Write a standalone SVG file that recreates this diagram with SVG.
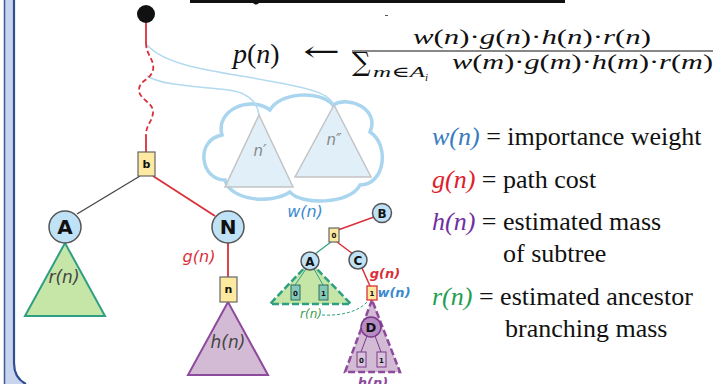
<svg xmlns="http://www.w3.org/2000/svg" width="713" height="384" viewBox="0 0 713 384">
<defs>
<style>
.node{fill:#c0e2f6;stroke:#555;stroke-width:1.5}
.box{fill:#fde9a0;stroke:#666;stroke-width:1.2}
.lbl{font-family:"DejaVu Sans",sans-serif;font-weight:bold;fill:#111;text-anchor:middle}
.it{font-family:"DejaVu Sans",sans-serif;font-style:italic;text-anchor:middle}
.red{stroke:#d9303a;fill:none}
.math{font-family:"Liberation Serif","DejaVu Serif",serif;fill:#111}
.leg{font-family:"Liberation Serif","DejaVu Serif",serif;font-size:26px;fill:#111}
.tri-g{fill:#c6e6a8;stroke:#2f9f84}
.tri-p{fill:#d3bbd6;stroke:#8e4a9c}
</style>
</defs>
<rect width="713" height="384" fill="#fff"/>
<!-- left frame -->
<g id="frame">
<path d="M4 0 L14 0 L14 363 Q14 378 26 384 L4 384 Z" fill="#c9d5ee"/>
<line x1="4.5" y1="0" x2="4.5" y2="384" stroke="#3d5a96" stroke-width="1.5"/>
<path d="M14 0 L14 363 Q14 378 26 384" fill="none" stroke="#2f4f8f" stroke-width="2.2"/>
<line x1="190" y1="1.5" x2="565" y2="1.5" stroke="#111" stroke-width="3"/>
<circle cx="256" cy="1.5" r="3" fill="#111"/>
<line x1="385" y1="15.5" x2="388" y2="15.5" stroke="#555" stroke-width="1"/>
</g>
<!-- cloud and ghost subtrees -->
<g id="cloud">
<path d="M225 180 C200 180,195 140,222 135 C215 110,250 95,270 110 C280 92,320 90,333 105 C350 95,380 110,370 132 C390 145,385 185,360 185 C350 205,300 205,290 192 C270 205,230 200,225 180 Z" fill="#fff" fill-opacity="0.3" stroke="#a9d5ee" stroke-width="3.5"/>
</g>
<g id="n1">
<path d="M259 115 L225 187 L293 187 Z" fill="#dbecf7" fill-opacity="0.85" stroke="#c4c4c4" stroke-width="1.5"/>
<text x="260" y="156" class="it" font-size="15" fill="#888">n′</text>
</g>
<g id="n2">
<path d="M334 105 L295 177 L371 177 Z" fill="#dbecf7" fill-opacity="0.85" stroke="#c4c4c4" stroke-width="1.5"/>
<text x="334" y="145" class="it" font-size="15" fill="#888">n″</text>
</g>
<!-- connectors -->
<g id="connectors">
<path d="M147 45 C170 70,230 72,290 85 C315 90,330 95,334 105" fill="none" stroke="#b3daf1" stroke-width="1.5"/>
<path d="M147 76 C170 90,230 85,245 95 C255 100,258 108,259 115" fill="none" stroke="#b3daf1" stroke-width="1.5"/>
<line x1="146" y1="22" x2="146" y2="43" class="red" stroke-width="1.8"/>
<path d="M146 43 C146 55,155 60,153 70 C151 80,139 80,139 90 C139 100,154 102,153 113 C152 122,146 125,146 135" class="red" stroke-width="1.8" stroke-dasharray="5,3"/>
<line x1="146" y1="135" x2="146" y2="152" class="red" stroke-width="1.8"/>
<line x1="140" y1="176" x2="77" y2="214" stroke="#444" stroke-width="1.3"/>
<line x1="153" y1="176" x2="215" y2="216" class="red" stroke-width="1.8"/>
<line x1="228" y1="243" x2="228" y2="277" class="red" stroke-width="1.8"/>
<!-- small tree connectors -->
<line x1="374" y1="217" x2="338" y2="230" class="red" stroke-width="1.5"/>
<line x1="331" y1="242" x2="315" y2="254" stroke="#2f9f84" stroke-width="1.2"/>
<line x1="337" y1="242" x2="353" y2="254" class="red" stroke-width="1.5"/>
<line x1="362" y1="268" x2="370" y2="286" class="red" stroke-width="1.5"/>
<path d="M322 315 C340 316,358 312,367 302" fill="none" stroke="#2f9f84" stroke-width="1" stroke-dasharray="3,2"/>
</g>
<!-- main tree -->
<g id="root"><circle cx="146" cy="14" r="9" fill="#111"/></g>
<g id="b">
<rect x="138" y="152" width="17" height="24" class="box"/>
<text x="146.5" y="168" class="lbl" font-size="11">b</text>
</g>
<g id="A">
<path d="M65 243 L25 316 L105 316 Z" class="tri-g" stroke-width="2"/>
<circle cx="65" cy="227" r="16" class="node"/>
<text x="65" y="234" class="lbl" font-size="20">A</text>
<text x="64" y="283" class="it" font-size="17" fill="#444">r(n)</text>
</g>
<g id="N">
<path d="M228 302 L188 375 L268 375 Z" class="tri-p" stroke-width="2"/>
<circle cx="228" cy="227" r="16" class="node"/>
<text x="228" y="234" class="lbl" font-size="20">N</text>
<text x="199" y="262" class="it" font-size="16" fill="#d9303a">g(n)</text>
<rect x="220" y="277" width="17" height="25" class="box"/>
<text x="228.5" y="293" class="lbl" font-size="11">n</text>
<text x="228" y="348" class="it" font-size="17" fill="#444">h(n)</text>
</g>
<!-- small tree -->
<g id="sw"><text x="305" y="217" class="it" font-size="16" fill="#3a8ad0">w(n)</text></g>
<g id="sB">
<circle cx="382" cy="213" r="9.5" class="node"/>
<text x="382" y="217.5" class="lbl" font-size="12">B</text>
</g>
<g id="s0">
<rect x="329" y="228" width="10" height="14" class="box"/>
<text x="334" y="238" class="lbl" font-size="7">0</text>
</g>
<g id="sA">
<path d="M310 262 L270 304 L351 304 Z" class="tri-g" stroke-width="2.5" stroke-dasharray="7,3"/>
<line x1="306" y1="269" x2="295" y2="285" stroke="#2f9f84" stroke-width="1"/>
<line x1="314" y1="269" x2="323" y2="285" stroke="#2f9f84" stroke-width="1"/>
<rect x="291" y="285" width="9" height="15" fill="#86c8b8" stroke="#2f6f60" stroke-width="1"/>
<text x="295.5" y="296" class="lbl" font-size="7">0</text>
<rect x="319" y="285" width="9" height="15" fill="#86c8b8" stroke="#2f6f60" stroke-width="1"/>
<text x="323.5" y="296" class="lbl" font-size="7">1</text>
<circle cx="310" cy="261" r="9" class="node"/>
<text x="310" y="265.5" class="lbl" font-size="12">A</text>
<text x="311" y="318" class="it" font-size="12" fill="#3aa050">r(n)</text>
</g>
<g id="sC">
<circle cx="358" cy="260" r="9" class="node"/>
<text x="358" y="264.5" class="lbl" font-size="12">C</text>
<text x="385" y="278" class="it" font-size="13" fill="#d9303a" font-weight="bold">g(n)</text>
</g>
<g id="s1">
<path d="M372 300 L345 372 L400 372 Z" class="tri-p" stroke-width="2.5" stroke-dasharray="7,3"/>
<rect x="367" y="286" width="10" height="14" fill="#fde9a0" stroke="#d9303a" stroke-width="1.3"/>
<text x="372" y="296" class="lbl" font-size="7">1</text>
<text x="394" y="297" class="it" font-size="13" fill="#3a8ad0" font-weight="bold">w(n)</text>
</g>
<g id="sD">
<line x1="367" y1="336" x2="361" y2="352" stroke="#7a3a8a" stroke-width="1"/>
<line x1="375" y1="336" x2="381" y2="352" stroke="#7a3a8a" stroke-width="1"/>
<circle cx="371" cy="327" r="10" fill="#b58dc3" stroke="#7a3a8a" stroke-width="1.5"/>
<text x="371" y="332" class="lbl" font-size="13">D</text>
<rect x="357" y="352" width="9" height="15" fill="#d8c2dc" stroke="#7a3a8a" stroke-width="1"/>
<text x="361.5" y="363" class="lbl" font-size="7">0</text>
<rect x="377" y="352" width="9" height="15" fill="#d8c2dc" stroke="#7a3a8a" stroke-width="1"/>
<text x="381.5" y="363" class="lbl" font-size="7">1</text>
<text x="373" y="387" class="it" font-size="13" fill="#8e4a9c" font-weight="bold">h(n)</text>
</g>
<!-- formula -->
<g id="formula" class="math">
<text x="233" y="63" font-size="28"><tspan font-style="italic">p</tspan>(<tspan font-style="italic">n</tspan>)</text>
<text x="303" y="61" font-size="28" font-family="DejaVu Serif,serif" textLength="37" lengthAdjust="spacingAndGlyphs">←</text>
<text x="532" y="44" font-size="20" text-anchor="middle" textLength="238" lengthAdjust="spacingAndGlyphs"><tspan font-style="italic">w</tspan>(<tspan font-style="italic">n</tspan>)·<tspan font-style="italic">g</tspan>(<tspan font-style="italic">n</tspan>)·<tspan font-style="italic">h</tspan>(<tspan font-style="italic">n</tspan>)·<tspan font-style="italic">r</tspan>(<tspan font-style="italic">n</tspan>)</text>
<line x1="352" y1="51" x2="713" y2="51" stroke="#111" stroke-width="1.2"/>
<text x="352" y="71" font-size="26" font-family="DejaVu Serif,serif">∑</text>
<text x="373" y="77" font-size="15" font-style="italic" textLength="52" lengthAdjust="spacingAndGlyphs">m<tspan font-style="normal">∈</tspan>A</text>
<text x="425" y="81" font-size="11" font-style="italic">i</text>
<text x="452" y="69" font-size="20" textLength="261" lengthAdjust="spacingAndGlyphs"><tspan font-style="italic">w</tspan>(<tspan font-style="italic">m</tspan>)·<tspan font-style="italic">g</tspan>(<tspan font-style="italic">m</tspan>)·<tspan font-style="italic">h</tspan>(<tspan font-style="italic">m</tspan>)·<tspan font-style="italic">r</tspan>(<tspan font-style="italic">m</tspan>)</text>
</g>
<!-- legend -->
<g id="legend" class="leg">
<text x="432" y="145"><tspan font-style="italic" fill="#3a7cc0">w(n)</tspan> = importance weight</text>
<text x="432" y="188"><tspan font-style="italic" fill="#e0202a">g(n)</tspan> = path cost</text>
<text x="432" y="230"><tspan font-style="italic" fill="#7030a0">h(n)</tspan> = estimated mass</text>
<text x="503" y="262">of subtree</text>
<text x="432" y="305"><tspan font-style="italic" fill="#1fa050">r(n)</tspan> = estimated ancestor</text>
<text x="505" y="337">branching mass</text>
</g>
</svg>
